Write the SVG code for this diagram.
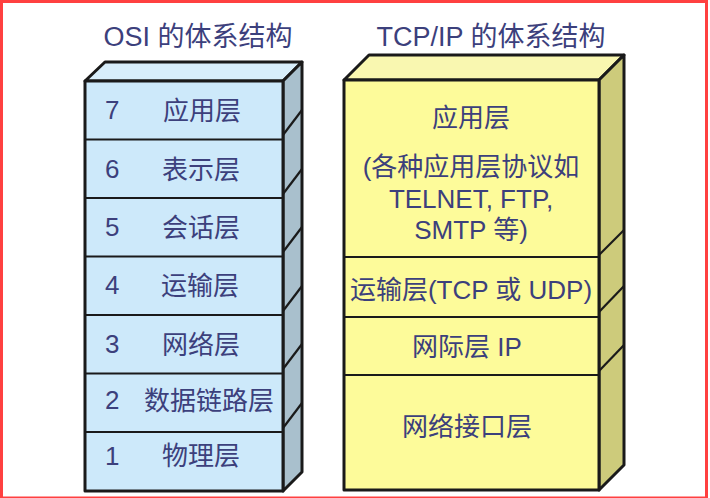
<svg xmlns="http://www.w3.org/2000/svg" width="710" height="498" viewBox="0 0 710 498">
<style>
.t{font-family:"Liberation Sans","Noto Sans CJK SC",sans-serif;fill:#3c407c;}
.ttl{font-size:27px;text-anchor:middle;}
.lbl{font-size:26px;}
.c{text-anchor:middle;}
.e{stroke:#1a1a1a;stroke-width:3;stroke-linejoin:round;}
.d{stroke:#1a1a1a;stroke-width:2.2;fill:none;}
.osiF{fill:#cde9fa;}
.osiT{fill:#d8eefb;}
.osiS{fill:#a9c0cd;}
.tcpF{fill:#fdfb9a;}
.tcpT{fill:#f9f7b0;}
.tcpS{fill:#cdcb7b;}
</style>
<rect x="1.5" y="1.5" width="705" height="496.5" fill="#ffffff" stroke="#ff4040" stroke-width="3"/>
<text class="t ttl" x="198" y="46">OSI 的体系结构</text>
<text class="t ttl" x="491" y="46">TCP/IP 的体系结构</text>
<g id="osi">
<polygon class="osiT e" points="85,81 105,62 302,62 283,81"/>
<polygon class="osiS e" points="283,81 302,62 302,472 283,491"/>
<rect class="osiF e" x="85" y="81" width="198" height="410"/>
<g class="d">
<line x1="85" y1="139.5" x2="283" y2="139.5"/>
<line x1="85" y1="198" x2="283" y2="198"/>
<line x1="85" y1="256.5" x2="283" y2="256.5"/>
<line x1="85" y1="315" x2="283" y2="315"/>
<line x1="85" y1="373.5" x2="283" y2="373.5"/>
<line x1="85" y1="432" x2="283" y2="432"/>
<line x1="283" y1="135" x2="302" y2="110"/>
<line x1="283" y1="194" x2="302" y2="169"/>
<line x1="283" y1="252" x2="302" y2="227"/>
<line x1="283" y1="311" x2="302" y2="286"/>
<line x1="283" y1="369" x2="302" y2="344"/>
<line x1="283" y1="428" x2="302" y2="403"/>
</g>
<g class="t lbl">
<text x="105" y="119">7</text><text class="c" x="202" y="120">应用层</text>
<text x="105" y="178">6</text><text class="c" x="201" y="179">表示层</text>
<text x="105" y="236">5</text><text class="c" x="201" y="237">会话层</text>
<text x="105" y="294">4</text><text class="c" x="200" y="295">运输层</text>
<text x="105" y="353">3</text><text class="c" x="201" y="354">网络层</text>
<text x="105" y="409">2</text><text class="c" x="209" y="410">数据链路层</text>
<text x="105" y="465">1</text><text class="c" x="201" y="465">物理层</text>
</g>
</g>
<g id="tcpip">
<polygon class="tcpT e" points="344,80 369,55 624,55 599,80"/>
<polygon class="tcpS e" points="599,80 624,55 624,465 599,490"/>
<rect class="tcpF e" x="344" y="80" width="255" height="410"/>
<g class="d">
<line x1="344" y1="257" x2="599" y2="257"/>
<line x1="344" y1="317" x2="599" y2="317"/>
<line x1="344" y1="375" x2="599" y2="375"/>
<line x1="599" y1="255" x2="624" y2="230"/>
<line x1="599" y1="312" x2="624" y2="286"/>
<line x1="599" y1="371" x2="624" y2="345"/>
</g>
<g class="t lbl c">
<text x="471" y="127">应用层</text>
<text x="471" y="176">(各种应用层协议如</text>
<text x="471" y="208">TELNET, FTP,</text>
<text x="471" y="239">SMTP 等)</text>
<text x="471" y="299">运输层(TCP 或 UDP)</text>
<text x="467" y="356">网际层 IP</text>
<text x="467" y="436">网络接口层</text>
</g>
</g>
</svg>
